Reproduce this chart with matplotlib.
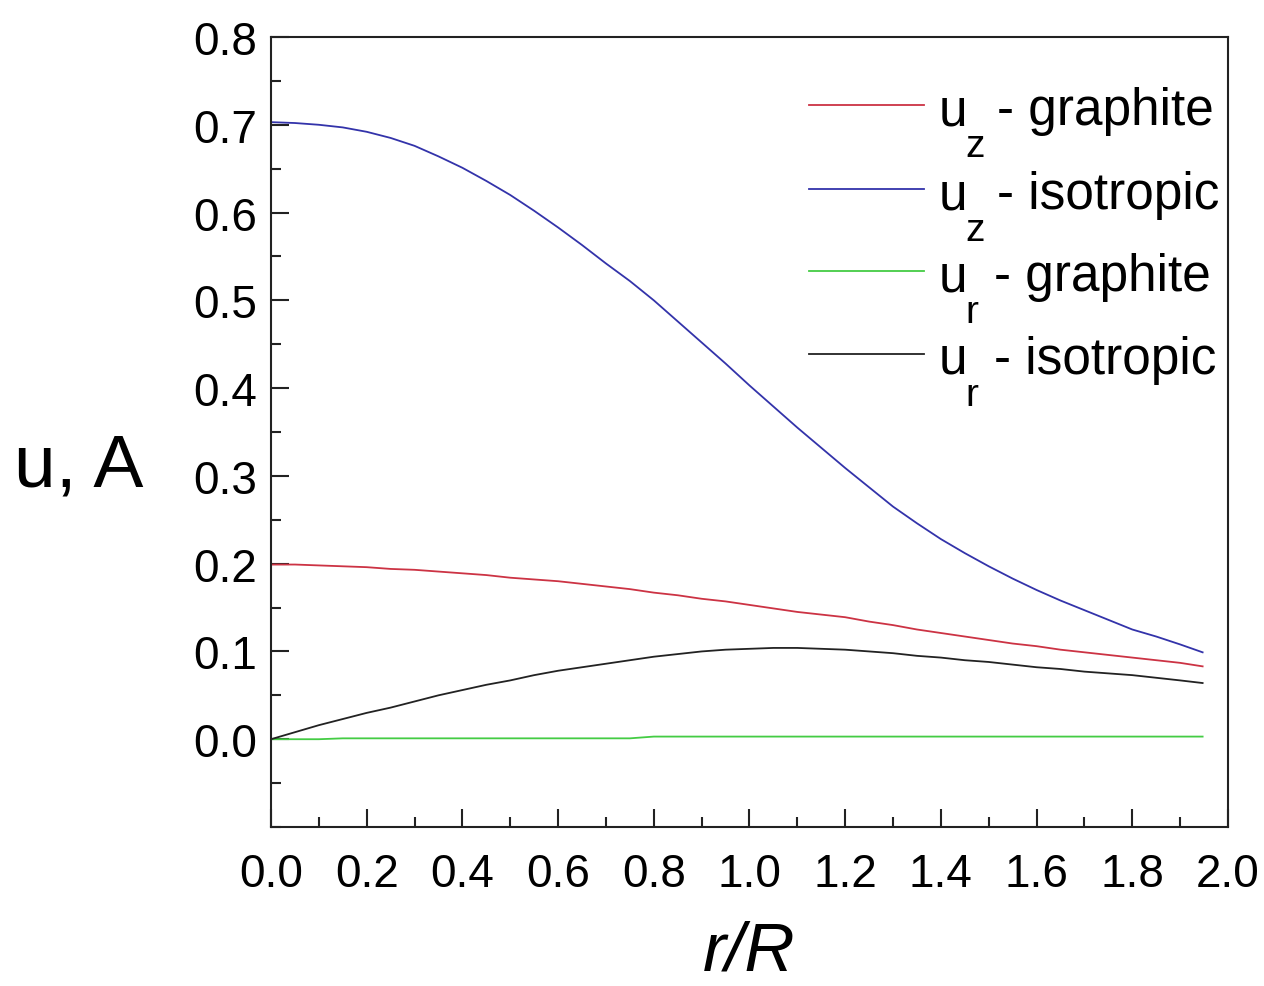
import numpy as np
import matplotlib
matplotlib.use("Agg")
import matplotlib.pyplot as plt
from matplotlib.lines import Line2D
from matplotlib.ticker import MultipleLocator, FormatStrFormatter

plt.rcParams['font.family'] = ['Liberation Sans', 'DejaVu Sans']

# radial coordinate r/R
r = [0.00, 0.05, 0.10, 0.15, 0.20, 0.25, 0.30, 0.35, 0.40, 0.45,
     0.50, 0.55, 0.60, 0.65, 0.70, 0.75, 0.80, 0.85, 0.90, 0.95,
     1.00, 1.05, 1.10, 1.15, 1.20, 1.25, 1.30, 1.35, 1.40, 1.45,
     1.50, 1.55, 1.60, 1.65, 1.70, 1.75, 1.80, 1.85, 1.90, 1.947]

# displacement components (A)
uz_graphite = [0.199, 0.199, 0.198, 0.197, 0.196, 0.194, 0.193, 0.191, 0.189, 0.187,
               0.184, 0.182, 0.180, 0.177, 0.174, 0.171, 0.167, 0.164, 0.160, 0.157,
               0.153, 0.149, 0.145, 0.142, 0.139, 0.134, 0.130, 0.125, 0.121, 0.117,
               0.113, 0.109, 0.106, 0.102, 0.099, 0.096, 0.093, 0.090, 0.087, 0.083]
uz_isotropic = [0.703, 0.702, 0.700, 0.697, 0.692, 0.685, 0.676, 0.664, 0.651, 0.636,
                0.620, 0.602, 0.583, 0.563, 0.542, 0.522, 0.500, 0.476, 0.452, 0.428,
                0.403, 0.379, 0.355, 0.332, 0.309, 0.287, 0.265, 0.246, 0.228, 0.212,
                0.197, 0.183, 0.170, 0.158, 0.147, 0.136, 0.125, 0.117, 0.108, 0.099]
ur_graphite = [0.000, 0.000, 0.000, 0.001, 0.001, 0.001, 0.001, 0.001, 0.001, 0.001,
               0.001, 0.001, 0.001, 0.001, 0.001, 0.001, 0.003, 0.003, 0.003, 0.003,
               0.003, 0.003, 0.003, 0.003, 0.003, 0.003, 0.003, 0.003, 0.003, 0.003,
               0.003, 0.003, 0.003, 0.003, 0.003, 0.003, 0.003, 0.003, 0.003, 0.003]
ur_isotropic = [0.000, 0.008, 0.016, 0.023, 0.030, 0.036, 0.043, 0.050, 0.056, 0.062,
                0.067, 0.073, 0.078, 0.082, 0.086, 0.090, 0.094, 0.097, 0.100, 0.102,
                0.103, 0.104, 0.104, 0.103, 0.102, 0.100, 0.098, 0.095, 0.093, 0.090,
                0.088, 0.085, 0.082, 0.080, 0.077, 0.075, 0.073, 0.070, 0.067, 0.064]

# legend entries: (values, colour, symbol, subscript, description)
series = [
    (uz_graphite, '#cc3344', 'u', 'z', '- graphite'),
    (uz_isotropic, '#3333aa', 'u', 'z', '- isotropic'),
    (ur_graphite, '#44cc44', 'u', 'r', '- graphite'),
    (ur_isotropic, '#222222', 'u', 'r', '- isotropic'),
]

W, H = 1264, 987
fig = plt.figure(figsize=(W / 100, H / 100), dpi=100)
ax = fig.add_axes([0.2144, 0.1611, 0.7571, 0.8004])

for vals, col, *_ in series:
    ax.plot(r, vals, color=col, lw=1.3)

ax.set_xlim(0.0, 2.0)
ax.set_ylim(-0.1, 0.8)
ax.xaxis.set_major_locator(MultipleLocator(0.2))
ax.xaxis.set_minor_locator(MultipleLocator(0.1))
ax.xaxis.set_major_formatter(FormatStrFormatter('%.1f'))
ax.set_yticks(np.arange(0.0, 0.81, 0.1))
ax.yaxis.set_minor_locator(MultipleLocator(0.05))
ax.yaxis.set_major_formatter(FormatStrFormatter('%.1f'))

ax.tick_params(which='both', direction='in', top=False, right=False,
               width=1.5, color='#222222', labelsize=33)
ax.tick_params(which='major', length=13)
ax.tick_params(which='minor', length=7)
ax.tick_params(axis='x', pad=18)
ax.tick_params(axis='y', pad=10)
for s in ax.spines.values():
    s.set_linewidth(1.5)
    s.set_color('#222222')

ax.set_ylabel('u, A', fontsize=54, rotation=0, ha='center', va='center')
ax.yaxis.set_label_coords(-0.2006, 0.457)
ax.set_xlabel('r/R', fontsize=50, style='italic')
ax.xaxis.set_label_coords(0.5, -0.158)
ax.xaxis.label.set_va('center')


# legend drawn by hand so the subscripts sit well below the baseline
def fx(px):
    return px / W


def fy(py):
    return 1 - py / H


row_y = [106, 190, 272, 355]
for (vals, col, sym, sub, desc), yy in zip(series, row_y):
    fig.add_artist(Line2D([fx(809), fx(924)], [fy(yy), fy(yy)], color=col, lw=1.3))
    fig.text(fx(939), fy(yy + 19), sym, fontsize=37, va='baseline', ha='left')
    fig.text(fx(965), fy(yy + 51), sub, fontsize=28, va='baseline', ha='left')
    x_desc = 997 if sub == 'z' else 994
    fig.text(fx(x_desc), fy(yy + 19), desc, fontsize=37, va='baseline', ha='left')

fig.savefig('out.png', dpi=100)
